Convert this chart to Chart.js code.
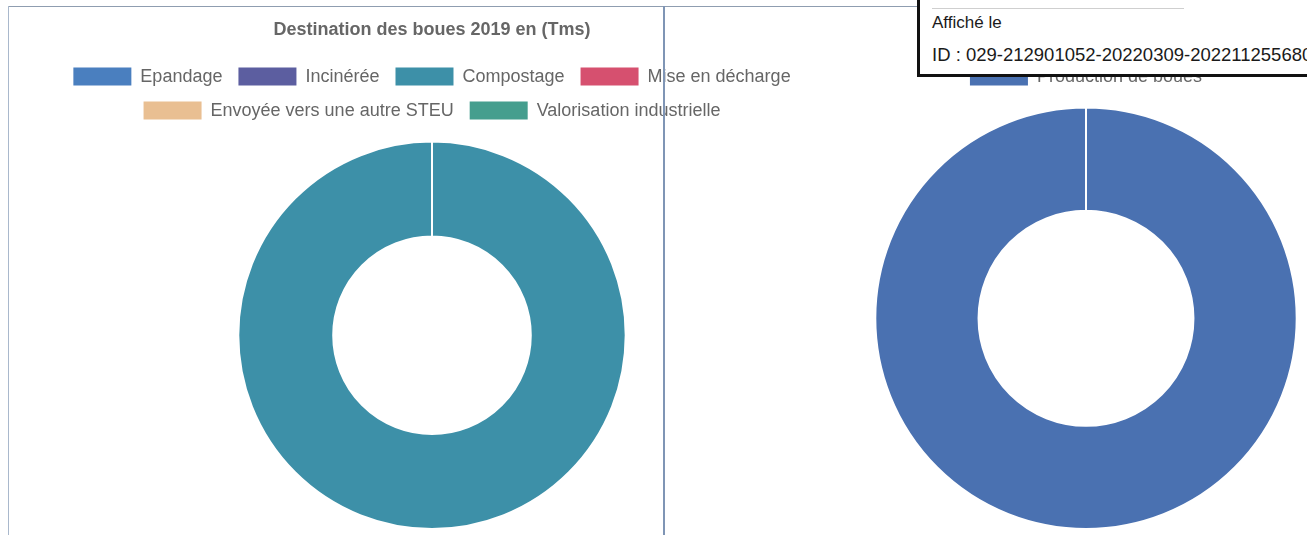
<!DOCTYPE html>
<html lang="fr">
<head>
    <meta charset="UTF-8">
    <title>Boues 2019</title>
    <script src="https://cdn.jsdelivr.net/npm/chart.js"></script>
    <style>
        body {
            margin: 0;
            width: 1307px;
            height: 535px;
            background: #fff;
            overflow: hidden;
            position: relative;
            font-family: "Liberation Sans", Arial, sans-serif;
        }
        .chart-box {
            position: absolute;
            top: 0;
            height: 535px;
        }
        .rule {
            position: absolute;
            background: #8f9db0;
            z-index: 2;
        }
        .stamp {
            position: absolute;
            left: 917px;
            top: -20px;
            width: 420px;
            height: 91px;
            border: 3px solid #111;
            background: #fff;
            z-index: 3;
            color: #1a1a1a;
        }
        .stamp div {
            position: absolute;
            left: 12px;
            white-space: nowrap;
        }
        .stamp .sep {
            left: 12px;
            top: 25px;
            width: 252px;
            height: 1px;
            background: #cfcfcf;
        }
    </style>
</head>
<body>
    <!-- Cadres de la page -->
    <div class="rule" style="left:8px; top:6px; width:909px; height:1px;"></div>
    <div class="rule" style="left:8px; top:6px; width:1px; height:529px; background:#a9b8cc;"></div>
    <div class="rule" style="left:663px; top:6px; width:2px; height:529px; background:#7f95b5;"></div>

    <div class="chart-box" style="left:40px; width:784px;">
        <canvas id="destinationChart"></canvas>
    </div>
    <div class="chart-box" style="left:865px; width:442px;">
        <canvas id="productionChart"></canvas>
    </div>

    <!-- Tampon -->
    <div class="stamp">
        <div style="top:-1px; font-size:17px;">Reçu en préfecture le</div>
        <div class="sep"></div>
        <div style="top:30px; font-size:17px;">Affiché le</div>
        <div style="top:61px; font-size:18.5px;">ID : 029-212901052-20220309-202211255680-DE</div>
    </div>

    <script>
        // Données
        const destinationLabels = ['Epandage', 'Incinérée', 'Compostage', 'Mise en décharge', 'Envoyée vers une autre STEU', 'Valorisation industrielle'];
        const destinationValues = [0, 0, 100, 0, 0, 0];
        const destinationColors = ['#4a7fbf', '#5c5ea0', '#3d90a8', '#d6506f', '#e9bf92', '#459e8e'];

        const productionLabels = ['Production de boues'];
        const productionValues = [100];
        const productionColors = ['#4a71b1'];

        Chart.defaults.font.family = '"Liberation Sans", Arial, sans-serif';
        Chart.defaults.color = '#666';

        // marge sous la légende
        const legendMargin = {
            id: 'legendMargin',
            beforeInit(chart) {
                const fit = chart.legend.fit;
                chart.legend.fit = function() {
                    fit.bind(chart.legend)();
                    this.height += 11;
                };
            }
        };

        // cases de légende pleines, sans bord blanc
        function plainLabels(chart) {
            const base = Chart.overrides.doughnut.plugins.legend.labels.generateLabels(chart);
            return base.map(item => ({ ...item, lineWidth: 0 }));
        }

        function makeOptions(title) {
            return {
                responsive: true,
                maintainAspectRatio: false,
                animation: false,
                cutout: '51%',
                layout: { padding: { top: 10, bottom: 5 } },
                plugins: {
                    title: {
                        display: true,
                        text: title,
                        color: '#666',
                        font: { size: 18, weight: 'bold' },
                        padding: { top: 9, bottom: 11 }
                    },
                    legend: {
                        position: 'top',
                        labels: {
                            boxWidth: 58,
                            boxHeight: 18,
                            padding: 16,
                            color: '#666',
                            font: { size: 18 },
                            generateLabels: plainLabels
                        }
                    },
                    tooltip: { enabled: false }
                }
            };
        }

        new Chart(document.getElementById('destinationChart'), {
            type: 'doughnut',
            data: {
                labels: destinationLabels,
                datasets: [{
                    data: destinationValues,
                    backgroundColor: destinationColors,
                    borderColor: '#fff',
                    borderWidth: 2
                }]
            },
            options: makeOptions('Destination des boues 2019 en (Tms)'),
            plugins: [legendMargin]
        });

        new Chart(document.getElementById('productionChart'), {
            type: 'doughnut',
            data: {
                labels: productionLabels,
                datasets: [{
                    data: productionValues,
                    backgroundColor: productionColors,
                    borderColor: '#fff',
                    borderWidth: 2
                }]
            },
            options: makeOptions('Production de boues 2019 en (Tms)'),
            plugins: [legendMargin]
        });
    </script>
</body>
</html>
